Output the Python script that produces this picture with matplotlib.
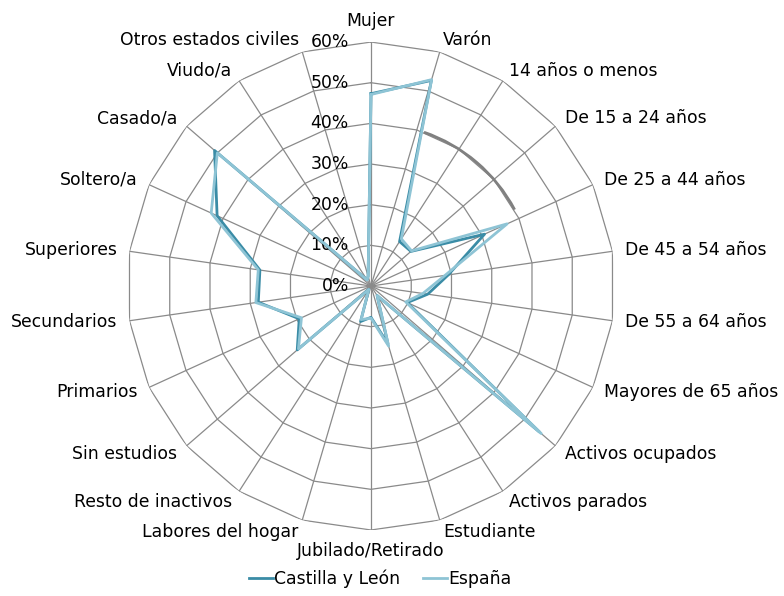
import numpy as np
import matplotlib.pyplot as plt
from matplotlib.patches import Arc

# Categories (clockwise from the top)
categories = ['Mujer', 'Varón', '14 años o menos', 'De 15 a 24 años', 'De 25 a 44 años',
              'De 45 a 54 años', 'De 55 a 64 años', 'Mayores de 65 años', 'Activos ocupados',
              'Activos parados', 'Estudiante', 'Jubilado/Retirado', 'Labores del hogar',
              'Resto de inactivos', 'Sin estudios', 'Primarios', 'Secundarios', 'Superiores',
              'Soltero/a', 'Casado/a', 'Viudo/a', 'Otros estados civiles']

# Percentages
castilla = [47.3, 52.7, 13.0, 13.0, 30.7, 19.2, 14.1, 9.8, 54.8, 2.8, 14.8, 7.7,
            9.1, 1.0, 24.0, 19.4, 28.0, 27.6, 41.6, 50.9, 1.8, 2.5]
espana = [47.1, 52.9, 13.8, 13.2, 36.8, 18.4, 12.9, 9.4, 55.4, 2.8, 15.4, 7.9,
          8.6, 1.0, 23.6, 18.8, 28.6, 28.0, 43.2, 50.0, 1.8, 2.5]

r_ticks = [0, 10, 20, 30, 40, 50, 60]
r_tick_labels = ['0%', '10%', '20%', '30%', '40%', '50%', '60%']

grid_color = '#8a8a8a'
c_cyl = '#3a8ca6'
c_esp = '#8ec4d5'
font_size = 12.4

n = len(categories)
theta = np.arange(n) * 2 * np.pi / n
closed = np.append(theta, theta[0])

fig = plt.figure(figsize=(7.84, 5.96), dpi=100)
ax = fig.add_axes([0.162, 0.1107, 0.6224, 0.8188], projection='polar')
ax.set_theta_zero_location('N')
ax.set_theta_direction(-1)
ax.set_ylim(0, 60)
ax.grid(False)
ax.set_xticks([])
ax.set_yticks([])
ax.spines['polar'].set_visible(False)

# polygon grid + spokes
for r in r_ticks[1:]:
    ax.plot(closed, [r] * (n + 1), color=grid_color, lw=0.9, zorder=1)
for t in theta:
    ax.plot([t, t], [0, r_ticks[-1]], color=grid_color, lw=0.9, zorder=1)

# darker arc artefact near 40%
ax.add_patch(Arc((0.5, 0.5), 40 / 60, 40 / 60, theta1=28, theta2=71,
                 transform=ax.transAxes, color='#808080', lw=2.0, zorder=1.5))

# series
ax.plot(closed, np.append(castilla, castilla[0]), color=c_cyl, lw=2.0, zorder=3,
        label='Castilla y León')
ax.plot(closed, np.append(espana, espana[0]), color=c_esp, lw=2.0, zorder=4,
        label='España')

# radial tick labels
for r, lab in zip(r_ticks, r_tick_labels):
    ax.annotate(lab, xy=(0, r), xytext=(-16, 0), textcoords='offset points',
                ha='right', va='center', fontsize=font_size)

# category labels
r_lab = 63
for t, lab in zip(theta, categories):
    s, c = np.sin(t), np.cos(t)
    if abs(s) < 0.01:
        ha = 'center'
        va = 'bottom' if c > 0 else 'top'
    else:
        ha = 'left' if s > 0 else 'right'
        va = 'center'
    ax.text(t, r_lab, lab, ha=ha, va=va, fontsize=font_size)

fig.legend(loc='lower center', bbox_to_anchor=(0.485, -0.012), ncol=2, frameon=False,
           fontsize=font_size, handlelength=1.4, handletextpad=0.1, columnspacing=1.3)

fig.savefig('out.png', dpi=100)
